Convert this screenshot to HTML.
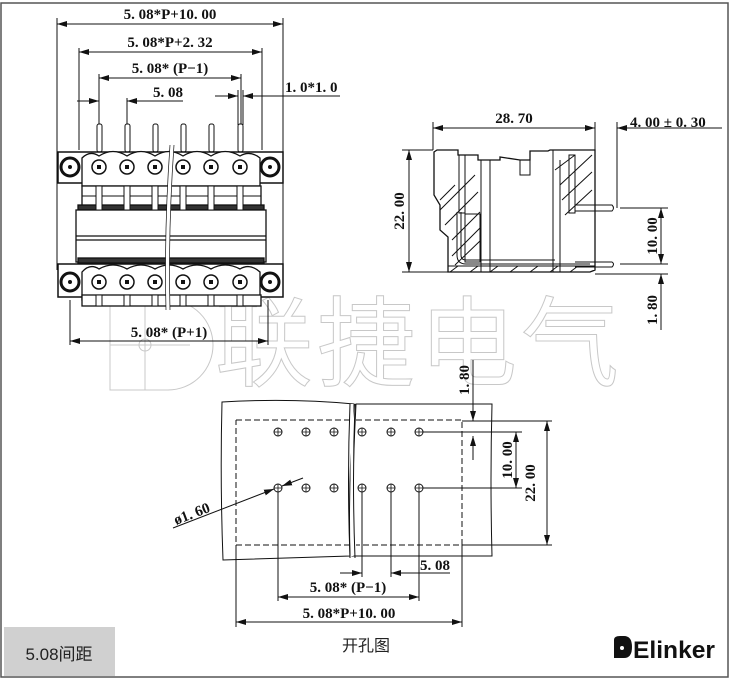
<!DOCTYPE html>
<html><head><meta charset="utf-8"><style>
html,body{margin:0;padding:0;background:#fff;}
svg{display:block;}
.d{font-family:"Liberation Serif","DejaVu Serif",serif;font-weight:bold;font-size:15px;fill:#111;}
</style></head><body>
<svg width="730" height="680" viewBox="0 0 730 680" xmlns="http://www.w3.org/2000/svg">
<defs>
<marker id="a" viewBox="0 0 10 6" refX="10" refY="3" markerWidth="10" markerHeight="6" orient="auto-start-reverse" markerUnits="userSpaceOnUse"><path d="M0,0L10,3L0,6z" fill="#111"/></marker>
</defs>
<rect x="1" y="3" width="727" height="674" fill="none" stroke="#555" stroke-width="1.5"/>

<!-- watermark -->
<g fill="none" stroke="#c8c8c8" stroke-width="1">
<path d="M168,300 A45,45 0 1 1 168,390 L110,390 L110,300 Z"/>
<circle cx="145" cy="345" r="6"/>
<line x1="145" y1="300" x2="145" y2="390"/><line x1="110" y1="345" x2="190" y2="345"/>
<text x="215" y="378" font-family="'Noto Sans CJK SC',sans-serif" font-size="98" stroke="#c8c8c8" fill="none" letter-spacing="4">联捷电气</text>
</g>

<!-- TOP VIEW dimensions -->
<g stroke="#111" stroke-width="1" fill="none">
<line x1="57" y1="18" x2="57" y2="270"/><line x1="283" y1="18" x2="283" y2="270"/>
<line x1="57" y1="24" x2="283" y2="24" marker-start="url(#a)" marker-end="url(#a)"/>
<line x1="79" y1="48" x2="79" y2="150"/><line x1="262" y1="48" x2="262" y2="150"/>
<line x1="79" y1="52" x2="262" y2="52" marker-start="url(#a)" marker-end="url(#a)"/>
<line x1="99" y1="74" x2="99" y2="125"/><line x1="241" y1="74" x2="241" y2="125"/>
<line x1="99" y1="78" x2="241" y2="78" marker-start="url(#a)" marker-end="url(#a)"/>
<line x1="127" y1="98" x2="127" y2="125"/>
<line x1="77" y1="101" x2="99" y2="101" marker-end="url(#a)"/>
<line x1="150" y1="101" x2="127" y2="101" marker-end="url(#a)"/>
<line x1="127" y1="101" x2="183" y2="101"/>
<line x1="215" y1="96" x2="238" y2="96" marker-end="url(#a)"/>
<line x1="340" y1="96" x2="243" y2="96" marker-end="url(#a)"/>
<line x1="238" y1="90" x2="238" y2="125"/><line x1="243" y1="90" x2="243" y2="125"/>
<line x1="70" y1="300" x2="70" y2="345"/><line x1="268" y1="300" x2="268" y2="345"/>
<line x1="70" y1="341" x2="268" y2="341" marker-start="url(#a)" marker-end="url(#a)"/>
</g>
<text class="d" x="170" y="19" text-anchor="middle">5. 08*P+10. 00</text>
<text class="d" x="170" y="47" text-anchor="middle">5. 08*P+2. 32</text>
<text class="d" x="170" y="73" text-anchor="middle">5. 08* (P−1)</text>
<text class="d" x="153" y="97">5. 08</text>
<text class="d" x="285" y="92">1. 0*1. 0</text>
<text class="d" x="169" y="337" text-anchor="middle">5. 08* (P+1)</text>

<!-- TOP VIEW body -->
<g stroke="#111" stroke-width="1.3" fill="#fff">
<g stroke-width="1">
<rect x="97" y="124" width="5" height="28" rx="2"/><rect x="125" y="124" width="5" height="28" rx="2"/><rect x="153" y="124" width="5" height="28" rx="2"/><rect x="181" y="124" width="5" height="28" rx="2"/><rect x="209" y="124" width="5" height="28" rx="2"/><rect x="238" y="124" width="5" height="28" rx="2"/>
</g>
<path d="M58,152 H283 V183 H58 Z" stroke-width="1.5"/>
<path d="M82,186 V158 Q90,150 99,156 Q113,147 127,156 Q141,147 155,156 Q169,147 183,156 Q197,147 211,156 Q225,147 240,156 Q250,150 260,158 V186 Z"/>
<rect x="82" y="186" width="179" height="24"/>
<rect x="78" y="205" width="186" height="5" fill="#333"/>
<rect x="76" y="210" width="190" height="52"/>
<line x1="76" y1="236" x2="266" y2="236"/><line x1="76" y1="240" x2="266" y2="240"/>
<rect x="78" y="258" width="186" height="5" fill="#333"/>
<path d="M58,264 H283 V297 H58 Z" stroke-width="1.5"/>
<path d="M82,300 V272 Q90,263 99,269 Q113,261 127,269 Q141,261 155,269 Q169,261 183,269 Q197,261 211,269 Q225,261 240,269 Q250,263 260,272 V300 Z"/>
<rect x="82" y="295" width="179" height="11"/>
</g>
<g fill="none" stroke="#111">
<line x1="82" y1="196" x2="261" y2="196"/>
</g>
<g stroke="#111" fill="#fff" stroke-width="1.5">
<circle cx="99" cy="167" r="7"/><circle cx="127" cy="167" r="7"/><circle cx="155" cy="167" r="7"/><circle cx="183" cy="167" r="7"/><circle cx="211" cy="167" r="7"/><circle cx="240" cy="167" r="7"/>
<circle cx="70" cy="167" r="9" stroke-width="3"/><circle cx="270" cy="167" r="9" stroke-width="3"/>
<circle cx="99" cy="282" r="7"/><circle cx="127" cy="282" r="7"/><circle cx="155" cy="282" r="7"/><circle cx="183" cy="282" r="7"/><circle cx="211" cy="282" r="7"/><circle cx="240" cy="282" r="7"/>
<circle cx="70" cy="282" r="9" stroke-width="3"/><circle cx="270" cy="282" r="9" stroke-width="3"/>
</g>
<g fill="#111">
<rect x="97" y="165" width="4" height="4"/><rect x="125" y="165" width="4" height="4"/><rect x="153" y="165" width="4" height="4"/><rect x="181" y="165" width="4" height="4"/><rect x="209" y="165" width="4" height="4"/><rect x="238" y="165" width="4" height="4"/>
<rect x="97" y="280" width="4" height="4"/><rect x="125" y="280" width="4" height="4"/><rect x="153" y="280" width="4" height="4"/><rect x="181" y="280" width="4" height="4"/><rect x="209" y="280" width="4" height="4"/><rect x="238" y="280" width="4" height="4"/>
<circle cx="70" cy="167" r="2"/><circle cx="270" cy="167" r="2"/><circle cx="70" cy="282" r="2"/><circle cx="270" cy="282" r="2"/>
</g>
<g stroke="#111" fill="#fff" stroke-width="1">
<rect x="96" y="186" width="6" height="24"/><rect x="124" y="186" width="6" height="24"/><rect x="152" y="186" width="6" height="24"/><rect x="180" y="186" width="6" height="24"/><rect x="208" y="186" width="6" height="24"/><rect x="237" y="186" width="6" height="24"/>
<rect x="96" y="295" width="6" height="11"/><rect x="124" y="295" width="6" height="11"/><rect x="152" y="295" width="6" height="11"/><rect x="180" y="295" width="6" height="11"/><rect x="208" y="295" width="6" height="11"/><rect x="237" y="295" width="6" height="11"/>
</g>
<path d="M172,145 Q166,230 168,310" stroke="#fff" stroke-width="4" fill="none"/>
<path d="M170,145 Q164,230 166,310 M174,145 Q168,230 170,310" stroke="#111" stroke-width="0.7" fill="none"/>

<!-- SIDE VIEW -->
<g stroke="#111" stroke-width="1" fill="none">
<line x1="433" y1="122" x2="433" y2="150"/><line x1="595" y1="122" x2="595" y2="150"/>
<line x1="433" y1="128" x2="595" y2="128" marker-start="url(#a)" marker-end="url(#a)"/>
<line x1="617" y1="122" x2="617" y2="208"/>
<line x1="645" y1="128" x2="617" y2="128" marker-end="url(#a)"/>
<line x1="617" y1="128" x2="722" y2="128"/>
<line x1="402" y1="150" x2="433" y2="150"/><line x1="402" y1="272" x2="500" y2="272"/>
<line x1="409" y1="150" x2="409" y2="272" marker-start="url(#a)" marker-end="url(#a)"/>
<line x1="620" y1="208" x2="668" y2="208"/><line x1="620" y1="264" x2="668" y2="264"/>
<line x1="595" y1="274" x2="668" y2="274"/>
<line x1="661" y1="208" x2="661" y2="264" marker-start="url(#a)" marker-end="url(#a)"/>
<line x1="661" y1="330" x2="661" y2="274" marker-end="url(#a)"/>
</g>
<text class="d" x="514" y="123" text-anchor="middle">28. 70</text>
<text class="d" x="630" y="127">4. 00 ± 0. 30</text>
<text class="d" transform="translate(404,211) rotate(-90)" text-anchor="middle">22. 00</text>
<text class="d" transform="translate(657,236) rotate(-90)" text-anchor="middle">10. 00</text>
<text class="d" transform="translate(657,310) rotate(-90)" text-anchor="middle">1. 80</text>
<g stroke="#111" stroke-width="1.3" fill="#fff">
<path d="M434,152 L437,150 H458 V155 H478 V160 H500 V157 L520 160 H530 V151 H548 L550,150 H595 V270 L590,272 H448 V237 L440,230 V205 L434,195 Z"/>
</g>
<g stroke="#111" stroke-width="1" fill="none">
<path d="M440,200 L455,185 M440,210 L475,175 M445,225 L478,192 M452,240 L480,212 M452,256 L481,227 M455,265 L481,240 M555,170 L575,155 M560,185 L592,155 M562,200 L592,172 M565,215 L592,190"/>
<line x1="481" y1="160" x2="481" y2="272"/><line x1="490" y1="160" x2="490" y2="272"/>
<line x1="553" y1="150" x2="553" y2="272"/><line x1="560" y1="160" x2="560" y2="272"/>
<rect x="459" y="155" width="6" height="58"/><rect x="569" y="155" width="6" height="58"/>
<path d="M457,212 V255 Q457,264 466,264 H590"/><path d="M461,212 V255 Q461,260 466,260 H555"/>
<rect x="465" y="214" width="15" height="48"/>
<line x1="448" y1="266" x2="595" y2="266"/>
<path d="M575,205 H612 Q615,208 612,211 H575"/><path d="M575,262 H612 Q615,264 612,267 H575"/>
<path d="M450,272 L458,266 M470,272 L478,266 M490,272 L498,266 M510,272 L518,266 M530,272 L538,266 M550,272 L558,266 M570,272 L578,266"/>
<rect x="520" y="160" width="10" height="15"/>
</g>

<!-- BOTTOM: hole pattern -->
<g stroke="#111" stroke-width="1" fill="none">
<path d="M222,402 Q220,480 223,560 L350,556 Q348,480 354,404 Q290,398 222,402 Z"/>
<path d="M356,404 Q352,480 352,556 L492,556 Q490,480 492,404 Z"/>
<path d="M236,420 H350 M356,420 H462 V545 H356 M350,545 H236 V420" stroke-dasharray="6,3"/>
<line x1="352" y1="556" x2="352" y2="404" stroke="#fff" stroke-width="3"/>
<path d="M350,404 Q347,480 350,558 M355,404 Q352,480 355,558"/>
</g>
<g stroke="#111" stroke-width="1" fill="#fff">
<circle cx="278" cy="432" r="4"/><circle cx="306" cy="432" r="4"/><circle cx="334" cy="432" r="4"/><circle cx="362" cy="432" r="4"/><circle cx="391" cy="432" r="4"/><circle cx="419" cy="432" r="4"/>
<circle cx="278" cy="488" r="4"/><circle cx="306" cy="488" r="4"/><circle cx="334" cy="488" r="4"/><circle cx="362" cy="488" r="4"/><circle cx="391" cy="488" r="4"/><circle cx="419" cy="488" r="4"/>
</g>
<g stroke="#111" stroke-width="0.8">
<path d="M274,432h8M278,428v8M302,432h8M306,428v8M330,432h8M334,428v8M358,432h8M362,428v8M387,432h8M391,428v8M415,432h8M419,428v8M274,488h8M278,484v8M302,488h8M306,484v8M330,488h8M334,484v8M358,488h8M362,484v8M387,488h8M391,484v8M415,488h8M419,484v8"/>
</g>
<g stroke="#111" stroke-width="1" fill="none">
<line x1="423" y1="432" x2="522" y2="432"/><line x1="423" y1="488" x2="522" y2="488"/>
<line x1="516" y1="432" x2="516" y2="488" marker-start="url(#a)" marker-end="url(#a)"/>
<line x1="462" y1="421" x2="552" y2="421"/><line x1="462" y1="545" x2="552" y2="545"/>
<line x1="547" y1="421" x2="547" y2="545" marker-start="url(#a)" marker-end="url(#a)"/>
<line x1="473" y1="400" x2="473" y2="421" marker-end="url(#a)"/>
<line x1="473" y1="460" x2="473" y2="436" marker-end="url(#a)"/>
<line x1="473" y1="360" x2="473" y2="400"/>
<line x1="278" y1="492" x2="278" y2="601"/><line x1="419" y1="492" x2="419" y2="601"/>
<line x1="362" y1="492" x2="362" y2="577"/><line x1="391" y1="492" x2="391" y2="577"/>
<line x1="340" y1="573" x2="362" y2="573" marker-end="url(#a)"/>
<line x1="410" y1="573" x2="391" y2="573" marker-end="url(#a)"/>
<line x1="391" y1="573" x2="450" y2="573"/>
<line x1="278" y1="597" x2="419" y2="597" marker-start="url(#a)" marker-end="url(#a)"/>
<line x1="236" y1="545" x2="236" y2="627"/><line x1="462" y1="545" x2="462" y2="627"/>
<line x1="236" y1="622" x2="462" y2="622" marker-start="url(#a)" marker-end="url(#a)"/>
<line x1="173" y1="528" x2="274" y2="489" marker-end="url(#a)"/>
<line x1="303" y1="478" x2="282" y2="486" marker-end="url(#a)"/>
</g>
<text class="d" transform="translate(535,483) rotate(-90)" text-anchor="middle">22. 00</text>
<text class="d" transform="translate(512,460) rotate(-90)" text-anchor="middle">10. 00</text>
<text class="d" transform="translate(469,380) rotate(-90)" text-anchor="middle">1. 80</text>
<text class="d" x="420" y="570">5. 08</text>
<text class="d" x="348" y="592" text-anchor="middle">5. 08* (P−1)</text>
<text class="d" x="349" y="618" text-anchor="middle">5. 08*P+10. 00</text>
<text class="d" transform="translate(176,525) rotate(-21)">ø1. 60</text>

<!-- bottom strip -->
<rect x="4" y="627" width="111" height="49" fill="#d0d0d0"/>
<text x="59" y="660" text-anchor="middle" font-family="'Liberation Sans','Noto Sans CJK SC',sans-serif" font-size="17" fill="#222">5.08间距</text>
<text x="366" y="651" text-anchor="middle" font-family="'Noto Sans CJK SC',sans-serif" font-size="16" fill="#222">开孔图</text>
<g>
<path d="M614,658 V640 Q614,636 620,636 H624 Q632,636 632,647 Q632,658 624,658 Z" fill="#111"/>
<circle cx="622" cy="648" r="2" fill="#fff"/>
<text x="633" y="658" font-family="'Liberation Sans',sans-serif" font-weight="bold" font-size="24" fill="#111" textLength="82" lengthAdjust="spacingAndGlyphs">Elinker</text>
</g>
</svg>
</body></html>
